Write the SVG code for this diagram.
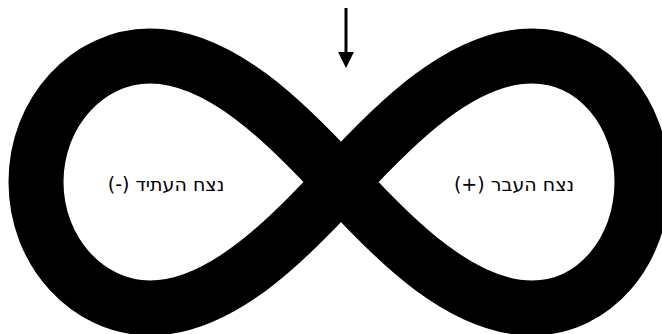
<svg xmlns="http://www.w3.org/2000/svg" width="662" height="334" viewBox="0 0 662 334">
<defs>
<style>
.loop{fill:none;stroke:#000;stroke-width:55;}
.lbl{font-family:"DejaVu Sans","Noto Sans",sans-serif;font-size:19px;fill:#000;text-anchor:middle;direction:rtl;}
.conn{stroke:#000;stroke-width:3;fill:none;}
</style>
<marker id="ah" viewBox="0 0 10 10" refX="0" refY="5" markerWidth="5.3" markerHeight="5.3" markerUnits="strokeWidth" orient="auto">
<path d="M0,0 L10,5 L0,10 z" fill="#000"/>
</marker>
</defs>
<rect width="662" height="334" fill="#fff"/>
<g id="infinity">
<path class="loop" d="M341,182 C287,123 220,56 150,56 C88,56 36,112 36,182 C36,252 88,308 150,308 C220,308 287,241 341,182 C395,123 462,56 532,56 C594,56 642,112 642,182 C642,252 594,308 532,308 C462,308 395,241 341,182 Z"/>
</g>
<g id="future">
<text class="lbl" x="166" y="191">נצח העתיד (-)</text>
</g>
<g id="past">
<text class="lbl" x="514" y="191">נצח העבר (+)</text>
</g>
<g id="connectors">
<path class="conn" d="M346,8 L346,52" marker-end="url(#ah)"/>
</g>
</svg>
